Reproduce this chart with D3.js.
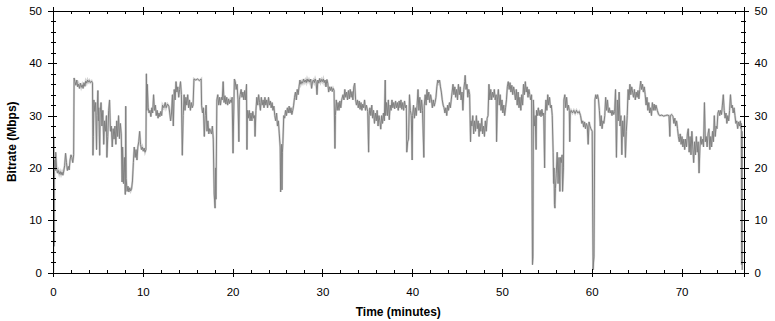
<!DOCTYPE html>
<html>
<head>
<meta charset="utf-8">
<script src="https://cdn.jsdelivr.net/npm/d3@7"></script>
<style>
  body { margin: 0; background: #fff; }
  svg { display: block; }
  .tick text { font-family: "Liberation Sans", Arial, sans-serif; font-size: 11.5px; fill: #000; }
  .axis path, .axis line { stroke: #000; shape-rendering: crispEdges; }
  .title { font-family: "Liberation Sans", Arial, sans-serif; font-size: 12px; font-weight: bold; }
</style>
</head>
<body>
<div id="chart"></div>
<script>
// Bitrate samples, [minute, Mbps]
var seg0 = [[0.05,0],[0.08,26],[0.12,5],[0.15,20],[0.2,21.5],[0.25,19.5],[0.3,23],[0.4,20],[0.5,19],[0.6,19.5],[0.7,18.8],[0.8,19.3],[0.9,18.7],[1.0,19.2],[1.1,18.6],[1.2,19.4],[1.3,20.5],[1.4,22.8],[1.5,21],[1.6,19.5],[1.7,20.3],[1.8,19.6],[1.9,21.5],[2.0,22.5],[2.1,22],[2.2,21],[2.3,22.5],[2.35,37.2],[2.45,36.5],[2.55,35.8],[2.65,36.8],[2.75,35.5],[2.85,36],[2.95,35.2],[3.05,36.2],[3.15,35.4],[3.25,35.9],[3.35,35.2],[3.45,36.3],[3.55,35.6],[3.65,36.6],[3.75,36.2],[3.85,36.8],[3.95,36.4],[4.05,36.7],[4.15,36.3],[4.3,36.6],[4.4,36.2],[4.45,22.4],[4.5,26],[4.55,33],[4.65,30.8],[4.75,32.5],[4.85,23.5],[4.9,30],[5.0,34.8],[5.05,29],[5.1,31.5],[5.2,22.4],[5.25,30.5],[5.35,32.5],[5.45,28],[5.55,31],[5.65,24.5],[5.75,29],[5.85,27],[5.95,30],[6.0,22],[6.1,26],[6.2,31],[6.3,33],[6.4,27],[6.5,28],[6.6,24],[6.7,27.5],[6.8,25.5],[6.9,28],[7.0,24.5],[7.1,29],[7.2,26],[7.3,30],[7.4,25.6],[7.5,28.5],[7.6,26.5],[7.7,17.3],[7.75,24],[7.85,17],[7.95,22],[8.05,14.9],[8.1,31.8],[8.15,18],[8.25,15.5],[8.35,16.5],[8.45,15.4],[8.55,16.2],[8.65,15.6],[8.75,16],[8.85,17.5],[8.95,21],[9.05,24],[9.15,22],[9.25,23.5],[9.35,21.5],[9.45,24],[9.55,25],[9.65,27],[9.75,24.5],[9.85,23.5],[9.95,24],[10.05,23.2],[10.15,23.8],[10.25,23],[10.35,23.5]];

var seg10 = [[10.4,38],[10.45,31],[10.5,36],[10.6,31.5],[10.7,30.5],[10.8,31],[10.9,29.8],[11.0,31.5],[11.1,30.5],[11.2,34],[11.3,31],[11.4,32],[11.5,30],[11.6,31],[11.7,29.5],[11.8,30.5],[11.9,29.8],[12.0,30.8],[12.1,30],[12.2,32],[12.35,31.5],[12.5,32.5],[12.6,31.5],[12.75,32.2],[12.9,31.8],[13.0,30.5],[13.1,29],[13.2,30.5],[13.3,34],[13.4,28],[13.5,35],[13.6,33],[13.7,36.5],[13.8,34.5],[13.9,35.5],[14.0,33.5],[14.1,35],[14.2,36.5],[14.3,34],[14.4,22.4],[14.5,30],[14.6,34],[14.7,31],[14.8,33.5],[14.9,32],[15.0,34],[15.1,31.5],[15.2,33],[15.3,31],[15.4,32.5],[15.5,31.5],[15.6,32],[15.7,37],[15.9,36.8],[16.1,37],[16.3,36.7],[16.5,37],[16.55,32],[16.65,30.5],[16.75,31.5],[16.85,26],[16.95,30],[17.05,32],[17.15,27],[17.25,29],[17.35,26.5],[17.45,27.5],[17.55,27],[17.65,26.5],[17.75,28],[17.85,25.5],[17.95,15],[18.05,12.3],[18.1,20],[18.15,14],[18.25,33],[18.35,34],[18.45,32],[18.55,33.5],[18.65,32],[18.75,33.5],[18.85,33],[18.95,36.5],[19.05,32.5],[19.15,33.8],[19.25,32.2],[19.35,33.5],[19.45,32],[19.55,33.2],[19.65,32.3],[19.75,33],[19.85,32.5],[19.95,33.5]];

var seg20 = [[20.05,22.8],[20.1,28],[20.2,37],[20.3,36.5],[20.4,35],[20.5,36],[20.6,33],[20.7,25],[20.75,33],[20.85,34],[20.95,35],[21.05,33.5],[21.15,34.5],[21.25,33],[21.35,34.8],[21.45,33],[21.55,36],[21.6,23.5],[21.65,31],[21.75,29.5],[21.85,31],[21.95,29],[22.05,30.5],[22.15,29],[22.25,30.8],[22.35,29.5],[22.45,30],[22.5,26],[22.6,31],[22.7,33.5],[22.8,32],[22.9,34],[23.0,32.5],[23.1,31],[23.2,33.5],[23.3,32],[23.4,33],[23.5,31.5],[23.6,33.5],[23.7,32],[23.8,33],[23.9,31.5],[24.0,33.5],[24.1,32],[24.2,32.8],[24.3,31.5],[24.4,32.5],[24.5,31],[24.6,31.8],[24.7,30],[24.8,29],[24.9,30.5],[25.0,28],[25.1,29],[25.2,26.5],[25.3,24],[25.35,15.4],[25.4,22],[25.45,24.5],[25.5,15.8],[25.55,23],[25.6,24.7],[25.7,30],[25.8,29.5],[25.9,31],[26.0,30],[26.1,31.5],[26.2,30.5],[26.3,31.8],[26.4,30.5],[26.5,31.5],[26.6,30.2],[26.7,31],[26.8,32],[26.9,33.5],[27.0,34.5],[27.1,33],[27.2,35],[27.3,34],[27.4,35.5],[27.5,36.8],[27.6,36],[27.7,36.5],[27.8,36.2],[27.9,37],[28.0,36.4],[28.1,36.8],[28.2,36.3],[28.3,37],[28.4,36.5],[28.5,36.9],[28.6,36.4],[28.7,37],[28.8,35.2],[28.9,36.5],[29.0,36.8],[29.1,36.3],[29.2,37],[29.3,36.5],[29.4,34],[29.5,36.8],[29.6,36.2],[29.7,37.1],[29.8,36.4],[29.9,36.9]];

var seg30 = [[30.0,36.5],[30.1,37],[30.2,36.3],[30.3,36.8],[30.4,35.5],[30.5,36.9],[30.6,36.2],[30.7,34.5],[30.8,35.5],[30.9,34.8],[31.0,35.5],[31.1,34.6],[31.2,35.2],[31.3,34.8],[31.4,23.7],[31.45,30],[31.55,33],[31.65,31],[31.75,32.5],[31.85,31],[31.95,32.8],[32.05,31.5],[32.15,33],[32.3,34],[32.4,33],[32.5,35],[32.6,33.5],[32.7,34.5],[32.8,33],[32.9,34.8],[33.0,33.2],[33.1,35],[33.2,33.5],[33.3,34.6],[33.4,33],[33.5,35.5],[33.6,36.2],[33.7,33],[33.8,32],[33.9,33],[34.0,31.5],[34.1,32.8],[34.2,31.2],[34.3,32.5],[34.4,31],[34.5,32.2],[34.6,31.5],[34.7,33],[34.8,31],[34.9,32],[35.05,30.8],[35.15,23],[35.2,30],[35.3,31.5],[35.4,30],[35.5,32],[35.6,29.5],[35.7,31],[35.8,28.5],[35.9,30.5],[36.0,29],[36.1,31],[36.2,28],[36.3,30],[36.4,29],[36.5,27.4],[36.6,30],[36.7,28.5],[36.8,30.5],[36.9,29],[37.0,36.8],[37.05,30],[37.15,32.5],[37.25,30],[37.35,33],[37.45,29.2],[37.55,32],[37.65,31],[37.75,33],[37.85,31.5],[37.95,32.5],[38.05,31.3],[38.15,32.8],[38.25,31.5],[38.35,32.5],[38.45,31],[38.55,32.8],[38.65,31.5],[38.75,33],[38.85,31.2],[38.95,32.5],[39.05,31],[39.15,32.8],[39.25,31.5],[39.35,32],[39.4,23],[39.5,25],[39.6,25.5],[39.7,34],[39.8,31],[39.9,30]];

var seg40 = [[40.0,21.5],[40.05,30],[40.15,32],[40.25,29.5],[40.35,31.5],[40.45,30],[40.55,32],[40.65,35],[40.75,31],[40.85,33.5],[40.95,30.5],[41.05,33],[41.15,31],[41.3,22],[41.35,32],[41.45,34],[41.55,32],[41.65,35],[41.75,33],[41.85,34.5],[41.95,32.5],[42.05,34],[42.15,33],[42.25,31.5],[42.35,33],[42.45,31.8],[42.55,32.5],[42.65,33.5],[42.75,35.5],[42.85,36.8],[42.95,36.3],[43.05,36.8],[43.15,35.5],[43.25,34.5],[43.35,33],[43.45,32],[43.55,31.5],[43.65,30.5],[43.75,31.5],[43.85,30],[43.95,32],[44.05,31],[44.15,32.5],[44.25,31.5],[44.35,33],[44.45,34.5],[44.55,36],[44.65,34],[44.75,35.5],[44.85,33.5],[44.95,35],[45.05,33],[45.15,36],[45.25,34],[45.35,35.5],[45.45,33],[45.55,34.5],[45.65,31],[45.75,35],[45.85,36.5],[45.9,37.7],[46.0,35],[46.1,36],[46.2,33.5],[46.3,35],[46.4,34],[46.5,25],[46.55,29],[46.65,28],[46.75,30],[46.85,26.5],[46.95,29],[47.05,27],[47.15,30],[47.25,27.5],[47.35,29],[47.45,26],[47.55,28.5],[47.65,27],[47.75,29.5],[47.85,26.5],[47.95,28],[48.05,26],[48.15,29],[48.25,27],[48.35,29.5],[48.45,30],[48.55,36],[48.65,33],[48.75,35],[48.85,33],[48.95,34.5],[49.05,33.5],[49.15,35],[49.25,33],[49.35,34],[49.4,25],[49.5,33],[49.6,35],[49.7,32],[49.8,34],[49.9,31]];

var seg50 = [[50.0,33],[50.1,30.5],[50.2,32],[50.3,30],[50.4,31.5],[50.5,33],[50.6,35.5],[50.7,36.5],[50.8,35],[50.9,36.3],[51.0,34.5],[51.1,35.8],[51.2,34],[51.3,35.5],[51.4,34.5],[51.5,33],[51.6,35],[51.7,32],[51.8,34.5],[51.9,31.5],[52.0,33.5],[52.1,31],[52.2,34],[52.3,32],[52.4,36],[52.5,34],[52.6,36.5],[52.7,34.5],[52.8,35.5],[52.9,33.5],[53.0,35],[53.1,34],[53.2,33],[53.3,34],[53.4,1.5],[53.45,3],[53.5,33],[53.6,28],[53.7,30],[53.8,23.5],[53.85,31],[53.95,30],[54.05,31.5],[54.15,30],[54.25,31],[54.35,29.8],[54.45,31.2],[54.55,30],[54.65,30.5],[54.75,20],[54.8,30],[54.9,33],[55.0,31],[55.1,34],[55.2,32],[55.3,33.5],[55.4,31.5],[55.5,32],[55.6,30],[55.7,23],[55.75,17],[55.8,20],[55.85,13],[55.9,12.3],[55.95,16],[56.05,19],[56.15,23],[56.25,17],[56.35,22],[56.45,15.5],[56.5,22],[56.6,21],[56.7,22.5],[56.75,15.5],[56.85,20],[56.9,33],[57.0,34],[57.1,31.5],[57.2,33.5],[57.3,31],[57.4,32],[57.5,31],[57.55,25],[57.6,30.5],[57.7,31],[57.85,30.5],[58.0,31],[58.15,30.4],[58.3,31],[58.45,30.5],[58.6,30.8],[58.75,30],[58.9,28.5],[59.0,29],[59.1,27.8],[59.2,28.8],[59.3,27.5],[59.4,28.5],[59.5,28],[59.6,24.5],[59.7,28.8],[59.8,28],[59.9,27.5]];

var seg60 = [[60.05,27],[60.15,0.5],[60.2,2],[60.25,3],[60.35,33],[60.45,34],[60.55,33.2],[60.65,34],[60.75,33],[60.85,31],[60.95,28],[61.05,30],[61.15,27.5],[61.25,29],[61.35,28.5],[61.45,30],[61.55,33.5],[61.65,31],[61.75,33],[61.85,30.6],[61.95,31.5],[62.05,30.5],[62.15,31],[62.25,30],[62.35,31],[62.45,30.2],[62.55,30.8],[62.65,35],[62.75,22],[62.85,33],[62.95,29],[63.05,34.5],[63.15,28],[63.25,30],[63.35,22.5],[63.45,29],[63.55,26],[63.65,30],[63.75,22],[63.85,27],[63.95,30],[64.05,35],[64.15,33],[64.25,36],[64.35,34],[64.45,35.5],[64.55,34.5],[64.65,33.5],[64.75,35],[64.85,33],[64.95,34.5],[65.05,33.5],[65.15,34.8],[65.25,33.2],[65.35,35],[65.45,36.6],[65.55,35],[65.65,36],[65.75,34.5],[65.85,35.5],[65.95,34],[66.05,32],[66.15,33.5],[66.25,31],[66.35,32.5],[66.45,30.5],[66.55,31.5],[66.65,30],[66.75,32.5],[66.85,31],[66.95,32.2],[67.05,31],[67.15,32],[67.3,31],[67.45,30.2],[67.6,30],[67.8,30.1],[68.0,29.9],[68.2,30],[68.4,30.1],[68.6,30],[68.7,26],[68.75,30],[68.9,30.2],[69.05,29.8],[69.15,28.5],[69.25,29.5],[69.35,28],[69.45,29],[69.55,27.5],[69.65,26],[69.75,25],[69.85,26.5],[69.95,24.5]];

var seg70 = [[70.05,26],[70.15,24],[70.25,25.5],[70.35,23.5],[70.45,25.5],[70.55,24],[70.65,26.5],[70.75,27.5],[70.85,23],[70.95,26],[71.05,22.5],[71.15,27],[71.25,24],[71.35,21],[71.45,25],[71.55,22.5],[71.65,26],[71.75,23],[71.85,25],[71.95,19],[72.05,24],[72.15,26],[72.25,24.5],[72.35,25.5],[72.45,24],[72.55,32.5],[72.65,25],[72.75,26],[72.85,24],[72.95,26.5],[73.05,27.5],[73.15,23.5],[73.25,26],[73.35,24],[73.45,27],[73.55,25],[73.65,30],[73.75,26],[73.85,28],[73.95,27.5],[74.05,30.5],[74.15,31],[74.25,30],[74.35,31],[74.45,30.2],[74.55,32],[74.65,34],[74.75,31],[74.85,29.5],[74.95,30.5],[75.05,28.5],[75.15,30],[75.25,29],[75.35,31],[75.45,34],[75.55,31.5],[75.65,32],[75.75,30.5],[75.85,31.5],[75.95,30],[76.05,28.5],[76.15,29],[76.25,27.5],[76.35,28.8],[76.45,28],[76.55,29],[76.62,27.5],[76.66,28.5],[76.7,1.5],[76.73,27],[76.76,0.5]];

var data = [].concat(seg0, seg10, seg20, seg30, seg40, seg50, seg60, seg70);

var xMajor = [0, 10, 20, 30, 40, 50, 60, 70];
var yMajor = [0, 10, 20, 30, 40, 50];
var xMinor = d3.range(0, 77, 2);
var yMinor = d3.range(0, 51, 2);

var width = 775, height = 321;
var plotLeft = 53, plotRight = 743.5, plotTop = 11, plotBottom = 272.5;

var x = d3.scaleLinear().domain([0, 76.9]).range([plotLeft, plotRight]);
var y = d3.scaleLinear().domain([0, 50]).range([plotBottom, plotTop]);

var svg = d3.select("#chart").append("svg")
    .attr("width", width)
    .attr("height", height);

svg.append("clipPath").attr("id", "plot")
  .append("rect")
    .attr("x", plotLeft).attr("y", plotTop)
    .attr("width", plotRight - plotLeft).attr("height", plotBottom - plotTop);

var line = d3.line()
    .x(function(d) { return x(d[0]); })
    .y(function(d) { return y(d[1]); });

var g = svg.append("g").attr("clip-path", "url(#plot)");

// light halo under the trace
g.append("path")
    .datum(data)
    .attr("d", line)
    .style("fill", "none")
    .style("stroke", "#d2d2d2")
    .style("stroke-width", 2.2);

g.append("path")
    .datum(data)
    .attr("d", line)
    .style("fill", "none")
    .style("stroke", "#808080")
    .style("stroke-width", 1);

// axes: ticks cross the axis line, so draw the outer and inner halves
function addAxis(axisFn, scale, vals, outer, inner, labels, transform) {
    var a = svg.append("g").attr("class", "axis").attr("transform", transform);
    a.call(axisFn(scale).tickValues(vals).tickSize(outer).tickPadding(labels ? 6 : 0)
        .tickFormat(labels ? d3.format("d") : ""));
    var b = svg.append("g").attr("class", "axis").attr("transform", transform);
    b.call(axisFn(scale).tickValues(vals).tickSize(-inner).tickFormat(""));
    b.select(".domain").remove();
    if (!labels) a.select(".domain").remove();
    return a;
}

// minor ticks
addAxis(d3.axisLeft, y, yMinor, 2, 3, false, "translate(" + plotLeft + ",0)");
addAxis(d3.axisRight, y, yMinor, 2, 3, false, "translate(" + plotRight + ",0)");
addAxis(d3.axisBottom, x, xMinor, 1, 3, false, "translate(0," + plotBottom + ")");
addAxis(d3.axisTop, x, xMinor, 0, 3, false, "translate(0," + plotTop + ")");

// major ticks with labels
addAxis(d3.axisLeft, y, yMajor, 5, 4, true, "translate(" + plotLeft + ",0)");
addAxis(d3.axisRight, y, yMajor, 5, 4, true, "translate(" + plotRight + ",0)");
addAxis(d3.axisBottom, x, xMajor, 4, 4, true, "translate(0," + plotBottom + ")")
    .selectAll(".tick text").attr("dy", "1.2em");
var topAx = addAxis(d3.axisTop, x, xMajor, 4, 4, true, "translate(0," + plotTop + ")");
topAx.selectAll(".tick text").remove();

svg.selectAll(".axis .domain").style("stroke", "#000");

svg.append("text")
    .attr("class", "title")
    .attr("x", (plotLeft + plotRight) / 2)
    .attr("y", 316)
    .attr("text-anchor", "middle")
    .text("Time (minutes)");

svg.append("text")
    .attr("class", "title")
    .attr("transform", "translate(16," + ((plotTop + plotBottom) / 2) + ") rotate(-90)")
    .attr("text-anchor", "middle")
    .text("Bitrate (Mbps)");
</script>
</body>
</html>
